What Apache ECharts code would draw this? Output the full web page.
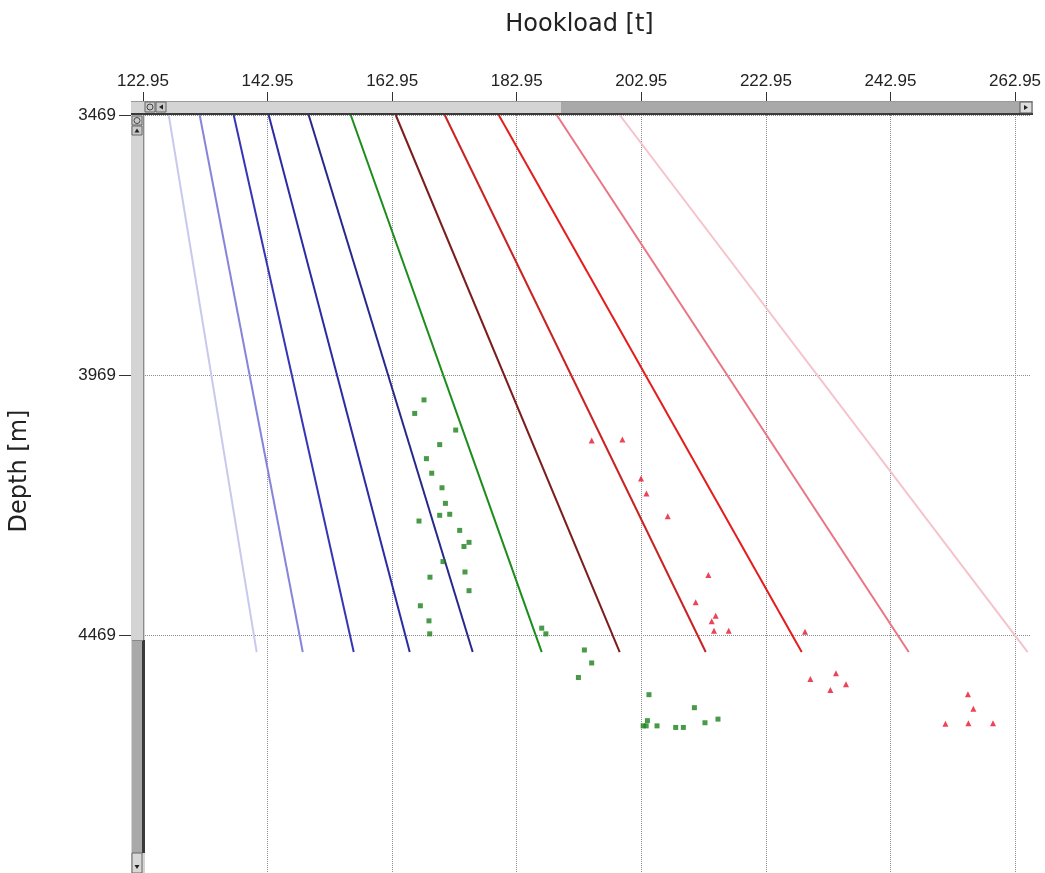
<!DOCTYPE html>
<html>
<head>
<meta charset="utf-8">
<script src="https://cdn.jsdelivr.net/npm/echarts@6/dist/echarts.min.js"></script>
<style>
html,body{margin:0;padding:0;background:#fff;}
#chart{width:1045px;height:873px;}
</style>
</head>
<body>
<div id="chart"></div>
<script>
// ---- data ----
const xTicks = [122.95, 142.95, 162.95, 182.95, 202.95, 222.95, 242.95, 262.95];
const yTicks = [3469, 3969, 4469];

// model lines: hookload at top depth and at bottom depth
const lineTopDepth = 3469;
const lineBottomDepth = 4502;
const lineTopHookload = [127.08, 132.05, 137.51, 143.13, 149.55, 156.3, 163.52, 171.39, 180.06, 189.37, 199.48];
const lineBottomHookload = [141.2, 148.6, 156.78, 165.77, 175.88, 186.96, 199.48, 213.29, 228.7, 245.88, 264.98];

// measured points (green squares)
const greenHookload = [168.06, 166.57, 173.15, 170.58, 168.45, 169.3, 170.95, 171.5, 170.58, 172.19, 167.26, 173.79, 174.48, 175.29, 171.11, 169.02, 174.64, 175.29, 167.48, 168.86, 168.98, 186.96, 187.63, 193.81, 194.98, 192.85, 204.18, 211.47, 203.93, 203.25, 203.73, 205.47, 208.47, 209.7, 213.17, 215.26];
const greenDepth = [4017, 4043, 4075, 4103, 4130, 4158, 4186, 4216, 4239, 4237, 4250, 4268, 4299, 4291, 4328, 4358, 4348, 4384, 4413, 4442, 4467, 4456, 4467, 4498, 4523, 4551, 4584, 4609, 4634, 4644, 4644, 4644, 4647, 4647, 4638, 4631];

// measured points (red triangles)
const redHookload = [194.98, 199.91, 202.9, 203.77, 207.19, 213.72, 211.68, 214.89, 214.25, 214.62, 216.98, 229.23, 230.09, 234.2, 233.3, 235.81, 255.39, 256.26, 251.77, 255.46, 259.41];
const redDepth = [4095, 4093, 4168, 4197, 4241, 4354, 4406, 4432, 4443, 4461, 4461, 4463, 4554, 4543, 4575, 4564, 4583, 4611, 4640, 4639, 4639];

// ---- styles ----
const lineColors = ['#c9c9ee', '#8585d9', '#3636b4', '#2b2ba3', '#28288c', '#1c8c1c', '#7c1c1c', '#c82222', '#e31c1c', '#ea7584', '#f5c3cb'];

const chart = echarts.init(document.getElementById('chart'));

const series = [];
lineTopHookload.forEach((v, i) => {
  series.push({
    type: 'line',
    data: [[v, lineTopDepth], [lineBottomHookload[i], lineBottomDepth]],
    symbol: 'none',
    lineStyle: { color: lineColors[i], width: 2 },
    silent: true,
    z: 2
  });
});
series.push({
  type: 'scatter',
  data: greenHookload.map((v, i) => [v, greenDepth[i]]),
  symbol: 'rect',
  symbolSize: 5,
  itemStyle: { color: '#1a801a' },
  z: 3
});
series.push({
  type: 'scatter',
  data: redHookload.map((v, i) => [v, redDepth[i]]),
  symbol: 'triangle',
  symbolSize: 6,
  itemStyle: { color: '#e8142c' },
  z: 3
});

const gridLine = { show: true, lineStyle: { color: '#8c8c8c', type: [1, 1], width: 1 } };

// scrollbar chrome (decorative UI)
const barLight = '#d4d4d4', barDark = '#a9a9a9', edge = '#3a3a3a';
const graphics = [
  // top scrollbar
  { type: 'rect', shape: { x: 131, y: 101, width: 902, height: 14 }, style: { fill: barLight } },
  { type: 'rect', shape: { x: 561, y: 102, width: 459, height: 11 }, style: { fill: barDark } },
  { type: 'rect', shape: { x: 131, y: 101, width: 902, height: 1 }, style: { fill: '#9a9a9a' } },
  { type: 'rect', shape: { x: 131, y: 113, width: 902, height: 2 }, style: { fill: edge } },
  { type: 'rect', shape: { x: 1020, y: 102, width: 12, height: 11 }, style: { fill: '#dcdcdc', stroke: '#555', lineWidth: 1 } },
  { type: 'polygon', shape: { points: [[1024, 105], [1024, 110], [1028, 107.5]] }, style: { fill: '#222' } },
  { type: 'rect', shape: { x: 145, y: 102, width: 10, height: 10 }, style: { fill: '#cacaca', stroke: '#666', lineWidth: 1 } },
  { type: 'circle', shape: { cx: 150, cy: 107, r: 3 }, style: { fill: 'none', stroke: '#444', lineWidth: 1 } },
  { type: 'rect', shape: { x: 156, y: 102, width: 10, height: 10 }, style: { fill: '#cacaca', stroke: '#666', lineWidth: 1 } },
  { type: 'polygon', shape: { points: [[163, 104.5], [163, 109.5], [159, 107]] }, style: { fill: '#222' } },
  // left scrollbar
  { type: 'rect', shape: { x: 131, y: 115, width: 14, height: 758 }, style: { fill: barLight } },
  { type: 'rect', shape: { x: 132, y: 640, width: 11, height: 213 }, style: { fill: barDark } },
  { type: 'rect', shape: { x: 143, y: 115, width: 1, height: 525 }, style: { fill: '#8a8a8a' } },
  { type: 'rect', shape: { x: 142, y: 640, width: 3, height: 213 }, style: { fill: edge } },
  { type: 'rect', shape: { x: 132, y: 640, width: 11, height: 1 }, style: { fill: '#888' } },
  { type: 'rect', shape: { x: 132, y: 116, width: 10, height: 9 }, style: { fill: '#cacaca', stroke: '#666', lineWidth: 1 } },
  { type: 'circle', shape: { cx: 137, cy: 120.5, r: 3 }, style: { fill: 'none', stroke: '#444', lineWidth: 1 } },
  { type: 'rect', shape: { x: 132, y: 126, width: 10, height: 9 }, style: { fill: '#cacaca', stroke: '#666', lineWidth: 1 } },
  { type: 'polygon', shape: { points: [[134.5, 132.5], [139.5, 132.5], [137, 128.5]] }, style: { fill: '#222' } },
  { type: 'rect', shape: { x: 132, y: 853, width: 10, height: 20 }, style: { fill: '#d8d8d8', stroke: '#666', lineWidth: 1 } },
  { type: 'polygon', shape: { points: [[134.5, 865], [139.5, 865], [137, 869]] }, style: { fill: '#222' } },
  // y axis title
  { type: 'text', x: 20, y: 471, rotation: Math.PI / 2,
    style: { text: 'Depth [m]', fill: '#222', font: '24px "DejaVu Sans"', align: 'center', verticalAlign: 'middle' } }
].map(g => Object.assign({ z: 100 }, g));

chart.setOption({
  animation: false,
  backgroundColor: '#fff',
  grid: { left: 143, right: 15, top: 115, bottom: 0, containLabel: false, outerBoundsMode: 'none' },
  xAxis: {
    type: 'value',
    position: 'top',
    min: 122.95,
    max: 265.35,
    interval: 20,
    offset: 14,
    name: 'Hookload [t]',
    nameLocation: 'middle',
    nameGap: 64,
    nameTextStyle: { fontFamily: 'DejaVu Sans', fontSize: 24, color: '#222', padding: [0, 14, 0, 0] },
    axisLine: { show: false },
    axisTick: { show: true, length: 9, customValues: xTicks, lineStyle: { color: '#333' } },
    axisLabel: { customValues: xTicks, margin: 11, fontFamily: 'Liberation Sans', fontSize: 17, color: '#222',
                 formatter: v => Number(v).toFixed(2) },
    splitLine: gridLine
  },
  yAxis: {
    type: 'value',
    inverse: true,
    min: 3469,
    max: 4927,
    interval: 500,
    offset: 10,
    axisLine: { show: false },
    axisTick: { show: true, length: 14, customValues: yTicks, lineStyle: { color: '#333' } },
    axisLabel: { customValues: yTicks, margin: 17, fontFamily: 'Liberation Sans', fontSize: 17, color: '#222',
                 formatter: v => String(v) },
    splitLine: gridLine
  },
  series: series,
  graphic: graphics
});
</script>
</body>
</html>
